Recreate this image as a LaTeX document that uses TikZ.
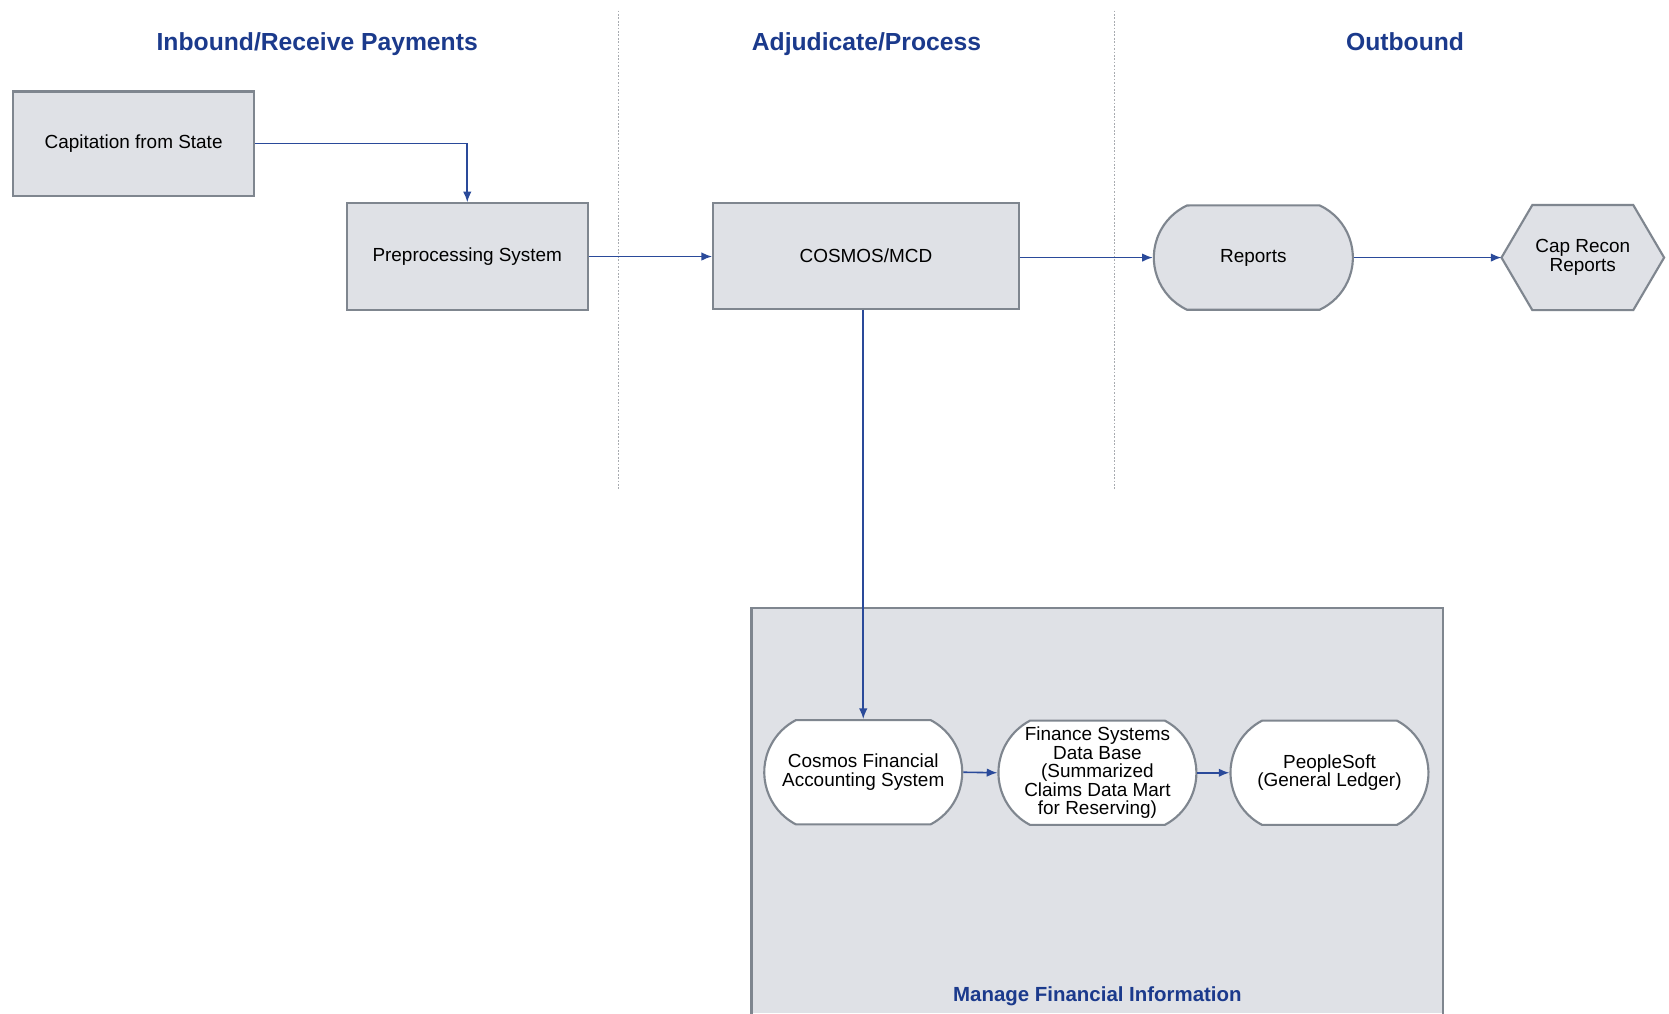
\documentclass[tikz,border=0pt]{standalone}
\usepackage{fontspec}
\setmainfont{Liberation Sans}
\usetikzlibrary{arrows.meta,shapes.misc,backgrounds}
\definecolor{flowblue}{HTML}{2A4A9A}
\definecolor{headblue}{HTML}{1B3A8C}
\definecolor{boxfill}{HTML}{DFE1E6}
\definecolor{boxline}{HTML}{7F868F}
\definecolor{laneline}{HTML}{A8ABB0}
\begin{document}
\begin{tikzpicture}[x=0.5pt,y=-0.5pt,
  every node/.style={font=\fontsize{8.9}{8.7}\selectfont, align=center, inner sep=0pt},
  heading/.style={font=\bfseries\fontsize{11.6}{14}\selectfont, text=headblue, text height=8.4pt, text depth=2.4pt},
  subheading/.style={font=\bfseries\fontsize{9.6}{12}\selectfont, text=headblue, text height=7pt, text depth=2pt},
  system/.style={rectangle, draw=boxline, fill=boxfill, line width=1pt},
  outputbox/.style={rounded rectangle, rounded rectangle arc length=130, draw=boxline, fill=boxfill, line width=1pt},
  ledger/.style={rounded rectangle, rounded rectangle arc length=125, draw=boxline, fill=white, line width=1pt, minimum width=93pt, minimum height=49pt},
  lane/.style={draw=laneline, line width=0.6pt, dash pattern=on 0.8pt off 0.8pt},
  flow/.style={draw=flowblue, line width=0.75pt, -{Latex[length=5pt,width=4pt]}}
]
\useasboundingbox (0,0) rectangle (1568,952);

% swimlane separators
\coordinate (laneAtop) at (581,10);
\coordinate (laneAbot) at (581,460);
\coordinate (laneBtop) at (1047,10);
\coordinate (laneBbot) at (1047,460);
\draw[lane] (laneAtop) -- (laneAbot);
\draw[lane] (laneBtop) -- (laneBbot);

% lane headings
\node[heading] (hin)  at (298,41)  {Inbound/Receive Payments};
\node[heading] (hadj) at (814,41)  {Adjudicate/Process};
\node[heading] (hout) at (1320,41) {Outbound};

% financial information area (runs off the bottom edge)
\coordinate (finNW) at (706,571);
\coordinate (finSE) at (1356,952);
\fill[boxfill] (finNW) rectangle (finSE);
\draw[boxline, line width=1pt] (706,960) -- (finNW) -- (1356,571) -- (1356,960);
\node[subheading] (hfin) at (1031,936) {Manage Financial Information};

% upper flow
\node[system, minimum width=113.5pt, minimum height=49pt] (cap) at (125.5,135) {Capitation from State};
\node[system, minimum width=113pt, minimum height=50pt] (pre) at (439,241) {Preprocessing System};
\node[system, minimum width=143.5pt, minimum height=49.5pt] (cosmos) at (813.5,240.5) {COSMOS/MCD};
\node[outputbox, minimum width=93.5pt, minimum height=49pt] (reports) at (1177.5,242) {Reports};
\node[minimum width=76pt, minimum height=49pt] (recon) at (1487,242) {Cap Recon\\Reports};
\begin{scope}[on background layer]
  \fill[white] (0,0) rectangle (1568,952);
  \draw[boxline, fill=boxfill, line width=1pt]
    (recon.west) -- ([xshift=14.5pt]recon.north west) -- ([xshift=-14.5pt]recon.north east)
    -- (recon.east) -- ([xshift=-14.5pt]recon.south east) -- ([xshift=14.5pt]recon.south west) -- cycle;
\end{scope}

% financial systems
\node[ledger] (cfa)   at (811,725.5) {Cosmos Financial\\Accounting System};
\node[ledger] (fsdb)  at (1031,726)  {Finance Systems\\Data Base\\(Summarized\\Claims Data Mart\\for Reserving)};
\node[ledger] (psoft) at (1249,726)  {PeopleSoft\\(General Ledger)};

% connectors
\draw[flow] (cap.east) -| (pre.north);
\draw[flow] (pre.east) -- (pre.east -| cosmos.west);
\draw[flow] (cosmos.east |- reports.west) -- (reports.west);
\draw[flow] (reports.east) -- (recon.west);
\draw[flow] (cfa.north |- cosmos.south) -- (cfa.north);
\draw[flow] (cfa.east) -- (fsdb.west);
\draw[flow] (fsdb.east) -- (psoft.west);
\end{tikzpicture}
\end{document}
